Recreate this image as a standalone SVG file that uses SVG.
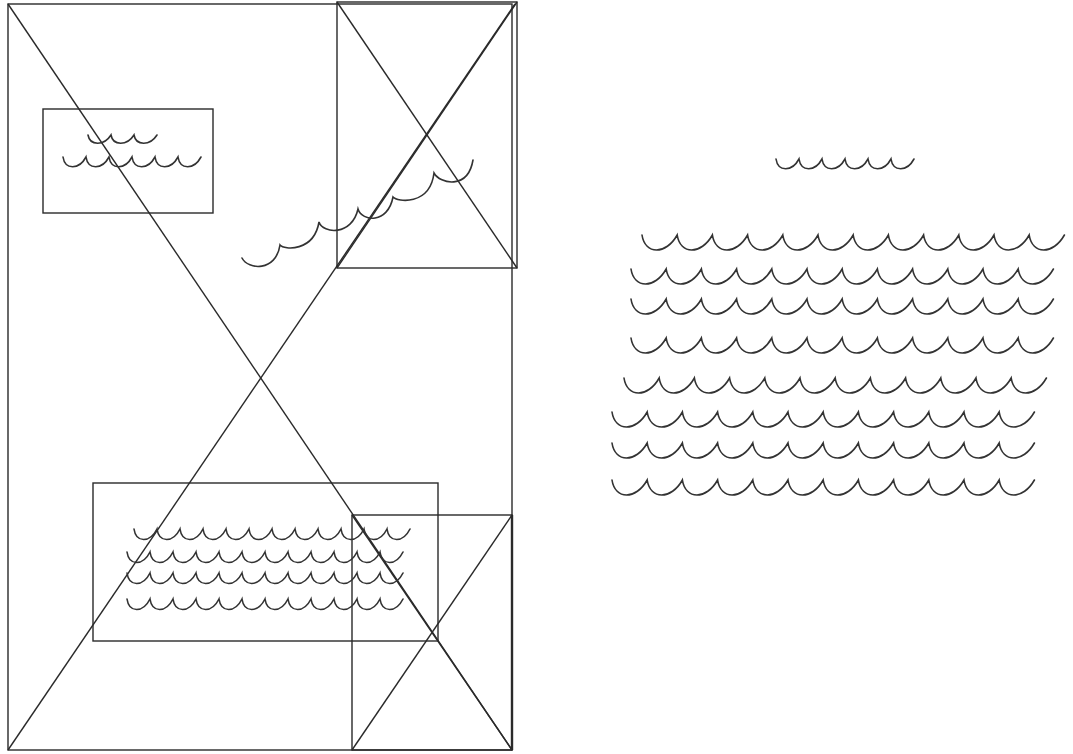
<svg xmlns="http://www.w3.org/2000/svg" xmlns:xlink="http://www.w3.org/1999/xlink" width="1073" height="754" viewBox="0 0 1073 754">
<style>
.ln{fill:none;stroke:#2a2a2a;stroke-width:1.4}
.wv{fill:none;stroke:#333;stroke-width:1.6;stroke-linecap:round;stroke-linejoin:miter}
</style>
<defs>
<path id="wL" d="M0 0 c3 20 24 20 35.2 0 c3 20 24 20 35.2 0 c3 20 24 20 35.2 0 c3 20 24 20 35.2 0 c3 20 24 20 35.2 0 c3 20 24 20 35.2 0 c3 20 24 20 35.2 0 c3 20 24 20 35.2 0 c3 20 24 20 35.2 0 c3 20 24 20 35.2 0 c3 20 24 20 35.2 0 c3 20 24 20 35.2 0"/>
<path id="wM" d="M0 0 c2 14 16 14 23 0 c2 14 16 14 23 0 c2 14 16 14 23 0 c2 14 16 14 23 0 c2 14 16 14 23 0 c2 14 16 14 23 0 c2 14 16 14 23 0 c2 14 16 14 23 0 c2 14 16 14 23 0 c2 14 16 14 23 0 c2 14 16 14 23 0 c2 14 16 14 23 0"/>
<path id="wS6" d="M0 0 c2 13 16 13 23 0 c2 13 16 13 23 0 c2 13 16 13 23 0 c2 13 16 13 23 0 c2 13 16 13 23 0 c2 13 16 13 23 0"/>
<path id="wS3" d="M0 0 c2 11 16 11 23 0 c2 11 16 11 23 0 c2 11 16 11 23 0"/>
</defs>
<g id="frame">
<rect class="ln" x="8" y="4" width="504" height="746"/>
<line class="ln" x1="8" y1="4" x2="512" y2="750"/>
<line class="ln" x1="8" y1="750" x2="515" y2="4"/>
</g>
<g id="box-top-right">
<rect class="ln" x="337" y="2" width="180" height="266"/>
<line class="ln" x1="337" y1="2" x2="517" y2="268"/>
<line class="ln" x1="337" y1="268" x2="517" y2="2"/>
</g>
<g id="box-bottom-right">
<rect class="ln" x="352" y="515" width="160" height="235"/>
<line class="ln" x1="512" y1="515" x2="512" y2="750" style="stroke-width:2.4"/>
<line class="ln" x1="352" y1="515" x2="512" y2="750"/>
<line class="ln" x1="352" y1="750" x2="512" y2="515"/>
</g>
<g id="box-left">
<rect class="ln" x="43" y="109" width="170" height="104"/>
<use href="#wS3" xlink:href="#wS3" class="wv" x="88" y="135"/>
<use href="#wS6" xlink:href="#wS6" class="wv" x="63" y="157"/>
</g>
<g id="box-bottom">
<rect class="ln" x="93" y="483" width="345" height="158"/>
<use href="#wM" xlink:href="#wM" class="wv" x="134" y="529"/>
<use href="#wM" xlink:href="#wM" class="wv" x="127" y="552"/>
<use href="#wM" xlink:href="#wM" class="wv" x="127" y="573"/>
<use href="#wM" xlink:href="#wM" class="wv" x="127" y="599"/>
</g>
<g id="diagonal-wave">
<path class="wv" d="M242 258 C248 270 276 272 280 245 C284 250 314 252 319 222 C323 234 352 236 358 209 C362 222 388 224 393 197 C397 202 430 206 434 173 C440 184 468 190 473 160"/>
</g>
<g id="waves-right">
<use href="#wS6" xlink:href="#wS6" class="wv" x="776" y="159"/>
<use href="#wL" xlink:href="#wL" class="wv" x="642" y="235"/>
<use href="#wL" xlink:href="#wL" class="wv" x="631" y="269"/>
<use href="#wL" xlink:href="#wL" class="wv" x="631" y="299"/>
<use href="#wL" xlink:href="#wL" class="wv" x="631" y="338"/>
<use href="#wL" xlink:href="#wL" class="wv" x="624" y="378"/>
<use href="#wL" xlink:href="#wL" class="wv" x="612" y="412"/>
<use href="#wL" xlink:href="#wL" class="wv" x="612" y="443"/>
<use href="#wL" xlink:href="#wL" class="wv" x="612" y="480"/>
</g>
</svg>
